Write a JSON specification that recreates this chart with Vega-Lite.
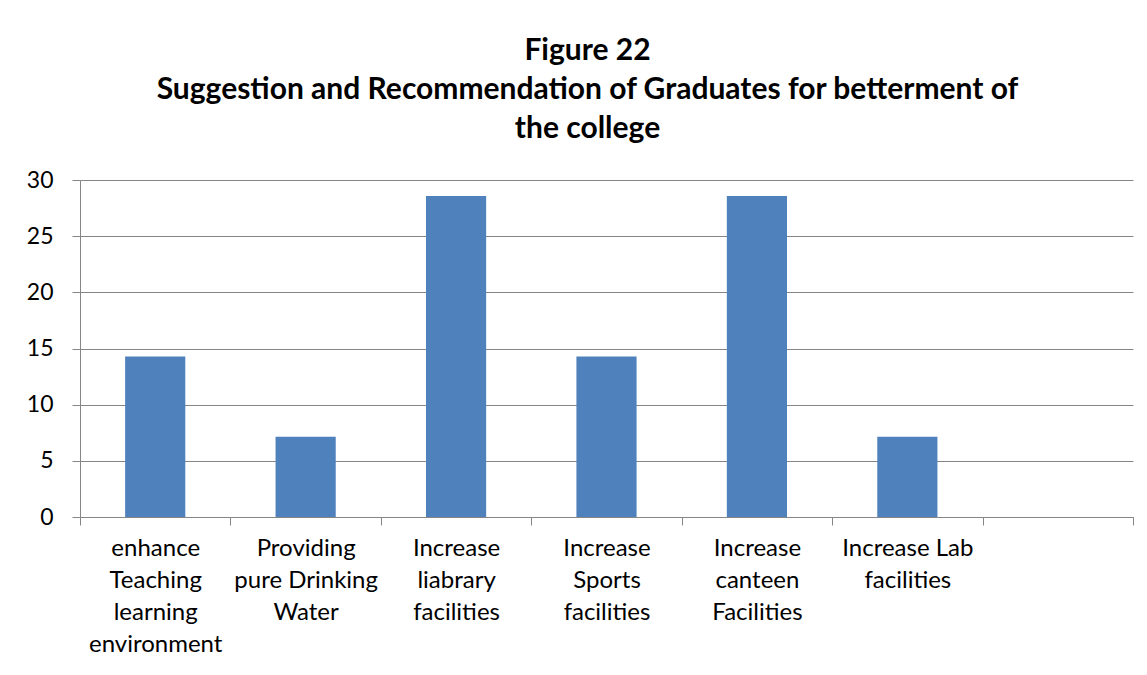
{
  "$schema": "https://vega.github.io/schema/vega-lite/v6.json",
  "width": 1053,
  "height": 337,
  "autosize": {"type": "none"},
  "padding": {"left": 80, "top": 180, "right": 14, "bottom": 158},
  "background": "white",
  "title": {
    "text": ["Figure 22", "Suggestion and Recommendation of Graduates for betterment of", "the college"],
    "font": "Lato",
    "fontSize": 30,
    "fontWeight": "bold",
    "color": "black",
    "lineHeight": 39,
    "anchor": "middle",
    "dx": -19,
    "offset": 25
  },
  "data": {
    "values": [
      {"category": "enhance\nTeaching\nlearning\nenvironment", "value": 14.29},
      {"category": "Providing\npure Drinking\nWater", "value": 7.14},
      {"category": "Increase\nliabrary\nfacilities", "value": 28.57},
      {"category": "Increase\nSports\nfacilities", "value": 14.29},
      {"category": "Increase\ncanteen\nFacilities", "value": 28.57},
      {"category": "Increase Lab\nfacilities", "value": 7.14}
    ]
  },
  "mark": {"type": "bar", "color": "#4F81BD", "width": {"band": 0.4}},
  "encoding": {
    "x": {
      "field": "category",
      "type": "nominal",
      "sort": null,
      "scale": {
        "domain": [
          "enhance\nTeaching\nlearning\nenvironment",
          "Providing\npure Drinking\nWater",
          "Increase\nliabrary\nfacilities",
          "Increase\nSports\nfacilities",
          "Increase\ncanteen\nFacilities",
          "Increase Lab\nfacilities",
          " "
        ],
        "paddingInner": 0,
        "paddingOuter": 0
      },
      "axis": {
        "title": null,
        "labelAngle": 0,
        "labelExpr": "split(datum.label, '\\n')",
        "labelFont": "Lato",
        "labelFontSize": 24,
        "labelColor": "black",
        "labelLineHeight": 32,
        "labelPadding": 11,
        "labelAlign": "center",
        "labelBaseline": "top",
        "tickBand": "extent",
        "tickSize": 8,
        "tickColor": "#868686",
        "domainColor": "#868686",
        "grid": false
      }
    },
    "y": {
      "field": "value",
      "type": "quantitative",
      "scale": {"domain": [0, 30], "nice": false},
      "axis": {
        "title": null,
        "values": [0, 5, 10, 15, 20, 25, 30],
        "labelFont": "Lato",
        "labelFontSize": 23,
        "labelColor": "black",
        "labelPadding": 19,
        "tickSize": 8,
        "tickColor": "#868686",
        "domainColor": "#868686",
        "gridColor": "#868686",
        "gridOpacity": 1,
        "grid": true
      }
    }
  },
  "config": {
    "view": {"stroke": null},
    "axis": {"domainWidth": 1, "tickWidth": 1, "gridWidth": 1}
  }
}
